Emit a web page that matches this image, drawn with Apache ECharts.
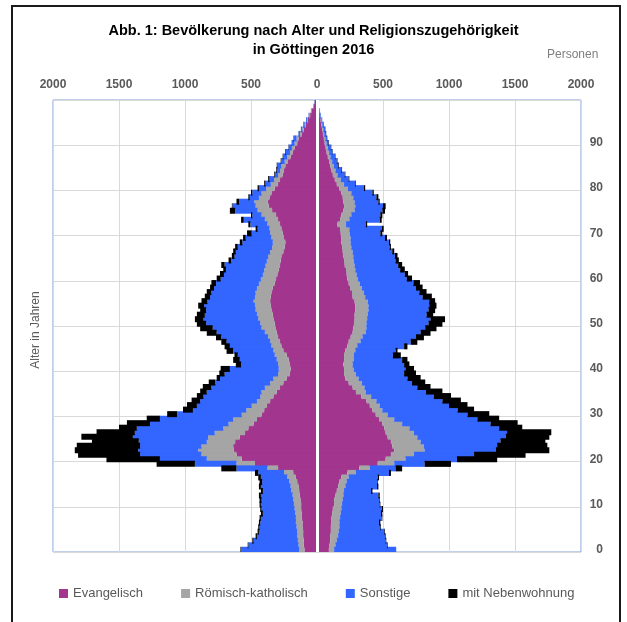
<!DOCTYPE html>
<html>
<head>
<meta charset="utf-8">
<title>Bevölkerung nach Alter und Religionszugehörigkeit</title>
<script src="https://cdn.jsdelivr.net/npm/echarts@6.0.0/dist/echarts.min.js"></script>
<style>
  html, body { margin: 0; padding: 0; background: #fff; }
  #main { width: 627px; height: 622px; }
</style>
</head>
<body>
<div id="main"></div>
<script>
// Altersjahre 0..99 (Kategorien der y-Achse)
const ages = Array.from({length: 100}, (_, i) => String(i));
const xTicks = [-2000, -1500, -1000, -500, 0, 500, 1000, 1500, 2000];
const seriesNames = ['Evangelisch', 'Römisch-katholisch', 'Sonstige', 'mit Nebenwohnung'];
const seriesColors = ['#a2358e', '#a5a5a5', '#3366ff', '#000000'];

// linke Seite (Personen je Altersjahr, nach links aufgetragen)
const leftEv = [95,100,100,105,105,110,110,115,115,120, 120,125,130,135,140,150,160,180,295,470,
  570,610,630,635,620,585,545,520,480,455, 420,400,380,355,330,305,280,255,230,205,
  200,205,215,230,255,270,280,295,305,315, 320,330,335,345,350,355,350,345,335,320,
  310,300,290,280,275,270,255,245,240,250, 260,270,280,295,310,340,365,375,360,345,
  320,295,280,260,250,240,220,200,185,170, 150,140,115,100,85,68,52,38,25,18];
const leftRk = [40,40,45,45,45,45,50,45,50,50, 55,55,55,60,60,60,65,70,80,140,
  265,265,270,240,215,240,230,190,190,180, 150,135,115,100,100,115,115,100,100,90,
  90,90,90,90,75,75,75,75,90,105, 110,115,120,120,120,125,120,120,120,120,
  115,110,110,110,105,100,100,95,95,95, 95,90,95,100,110,110,100,100,80,75,
  65,55,45,35,30,30,25,25,20,20, 20,15,13,10,8,7,5,4,3,2];
const leftSo = [440,380,335,305,290,280,270,265,245,250, 250,240,240,215,225,205,200,195,235,315,
  355,465,455,465,515,570,605,655,595,555, 490,405,415,430,430,415,405,415,405,405,
  370,280,280,280,305,315,330,355,365,370, 410,415,395,375,385,350,340,335,325,325,
  305,295,290,310,270,255,260,260,230,195, 140,90,130,160,70,170,175,115,70,70,
  55,40,35,25,25,30,25,30,30,25, 20,20,12,10,9,7,6,3,2,2];
const leftNw = [5,5,10,10,10,10,10,10,15,10, 10,15,15,15,15,20,20,25,115,290,
  405,470,480,480,355,390,290,135,175,100, 75,75,75,65,50,50,65,50,25,40,
  70,40,50,25,50,40,40,40,75,95, 70,65,60,45,45,45,40,35,30,35,
  30,30,20,25,20,20,20,20,20,20, 35,15,15,20,10,40,5,20,10,10,
  10,10,10,5,5,5,5,5,5,2, 2,3,1,2,2,1,1,1,0,0];

// rechte Seite
const rightEv = [90,95,100,100,105,105,110,110,115,120, 130,130,140,150,160,170,185,230,320,460,
  520,560,585,570,560,535,520,510,495,470, 445,420,400,375,335,295,270,240,215,205,
  205,200,205,205,215,230,240,255,270,275, 280,285,285,290,290,285,270,265,250,240,
  230,225,220,210,205,200,195,190,185,185, 180,175,155,175,185,200,205,200,195,185,
  170,150,135,120,110,100,91,82,73,66, 58,52,45,40,34,28,22,15,10,7];
const rightRk = [40,45,50,60,60,65,60,65,65,65, 60,65,60,55,55,55,55,65,80,125,
  150,175,230,240,225,225,215,190,150,115, 90,75,75,75,75,75,90,100,100,90,
  75,70,75,75,75,75,90,90,100,100, 95,95,100,100,100,100,95,90,90,85,
  80,75,70,75,75,75,75,70,70,70, 70,70,65,70,75,85,85,85,80,75,
  65,55,45,35,30,28,24,20,19,16, 14,11,10,8,6,5,3,3,2,1];
const rightSo = [470,390,370,355,345,310,300,315,305,305, 285,275,265,205,240,230,220,250,195,230,
  390,455,540,555,605,670,705,680,670,630, 605,570,525,500,475,455,400,380,370,365,
  390,390,365,295,305,355,380,405,415,445, 470,480,445,455,460,465,435,420,410,405,
  370,365,340,330,315,315,300,290,290,260, 230,245,150,230,220,210,210,180,175,160,
  120,85,60,55,45,34,35,36,26,23, 16,13,13,14,10,7,5,5,2,2];
const rightNw = [0,5,5,5,5,5,10,5,10,10, 5,5,10,10,10,5,10,15,50,200,
  305,390,405,380,340,330,335,175,205,165, 165,125,140,140,130,125,100,100,100,90,
  65,40,40,60,15,25,50,60,75,85, 105,110,50,50,55,45,70,55,50,50,
  40,25,35,30,25,20,15,10,10,15, 15,15,10,15,15,20,20,10,15,10,
  10,5,5,5,5,5,5,3,2,3, 3,2,2,2,2,0,0,0,0,0];

const leftData = [leftEv, leftRk, leftSo, leftNw];
const rightData = [rightEv, rightRk, rightSo, rightNw];

const chart = echarts.init(document.getElementById('main'));

const series = [];
seriesNames.forEach((name, k) => {
  series.push({
    name: name,
    type: 'bar',
    stack: 'links',
    barGap: '-100%',
    barWidth: 6,
    itemStyle: {color: seriesColors[k]},
    data: leftData[k].map(v => -v)
  });
});
seriesNames.forEach((name, k) => {
  series.push({
    name: name,
    type: 'bar',
    stack: 'rechts',
    barGap: '-100%',
    barWidth: 6,
    itemStyle: {color: seriesColors[k]},
    data: rightData[k]
  });
});
// weisse Trennlinie bei 0
series[7].markLine = {
  silent: true,
  symbol: 'none',
  label: {show: false},
  lineStyle: {color: '#ffffff', width: 3, type: 'solid'},
  data: [{xAxis: 0}]
};

const option = {
  animation: false,
  backgroundColor: '#ffffff',
  textStyle: {fontFamily: 'Liberation Sans'},
  title: {
    text: 'Abb. 1: Bevölkerung nach Alter und Religionszugehörigkeit\nin Göttingen 2016',
    left: 'center',
    top: 16,
    textStyle: {fontSize: 14.5, fontWeight: 'bold', color: '#000000', lineHeight: 19, fontFamily: 'Liberation Sans'}
  },
  legend: {
    data: seriesNames,
    left: 54,
    top: 582,
    icon: 'rect',
    itemWidth: 9,
    itemHeight: 9,
    itemGap: 38,
    textStyle: {fontSize: 13, color: '#595959'}
  },
  grid: {
    left: 53,
    right: 46,
    top: 100,
    bottom: 70,
    show: true,
    borderColor: '#7f9fd8',
    borderWidth: 1
  },
  xAxis: {
    type: 'value',
    position: 'top',
    min: xTicks[0],
    max: xTicks[xTicks.length - 1],
    interval: 500,
    axisLine: {show: false},
    axisTick: {show: false},
    axisLabel: {
      margin: 9,
      fontSize: 12,
      fontWeight: 'bold',
      color: '#595959',
      formatter: v => String(Math.abs(v))
    },
    splitLine: {lineStyle: {color: '#d9d9d9', width: 1}}
  },
  yAxis: {
    type: 'category',
    position: 'right',
    data: ages,
    axisLine: {show: false},
    axisTick: {show: false, interval: 9},
    axisLabel: {
      interval: 9,
      margin: 22,
      align: 'right',
      fontSize: 12,
      fontWeight: 'bold',
      color: '#595959'
    },
    splitLine: {show: true, interval: 9, lineStyle: {color: '#d9d9d9', width: 1}}
  },
  graphic: [
    {
      type: 'rect',
      silent: true,
      shape: {x: 12, y: 6, width: 608, height: 640},
      style: {fill: 'none', stroke: '#1a1a1a', lineWidth: 2}
    },
    {
      type: 'text',
      x: 547,
      y: 55,
      silent: true,
      style: {text: 'Personen', fontSize: 12, fill: '#7f7f7f', verticalAlign: 'middle', fontFamily: 'Liberation Sans'}
    },
    {
      type: 'text',
      x: 36,
      y: 330,
      rotation: Math.PI / 2,
      silent: true,
      style: {text: 'Alter in Jahren', fontSize: 12, fill: '#595959', align: 'center', verticalAlign: 'middle', fontFamily: 'Liberation Sans'}
    }
  ],
  series: series
};

chart.setOption(option);
</script>
</body>
</html>
